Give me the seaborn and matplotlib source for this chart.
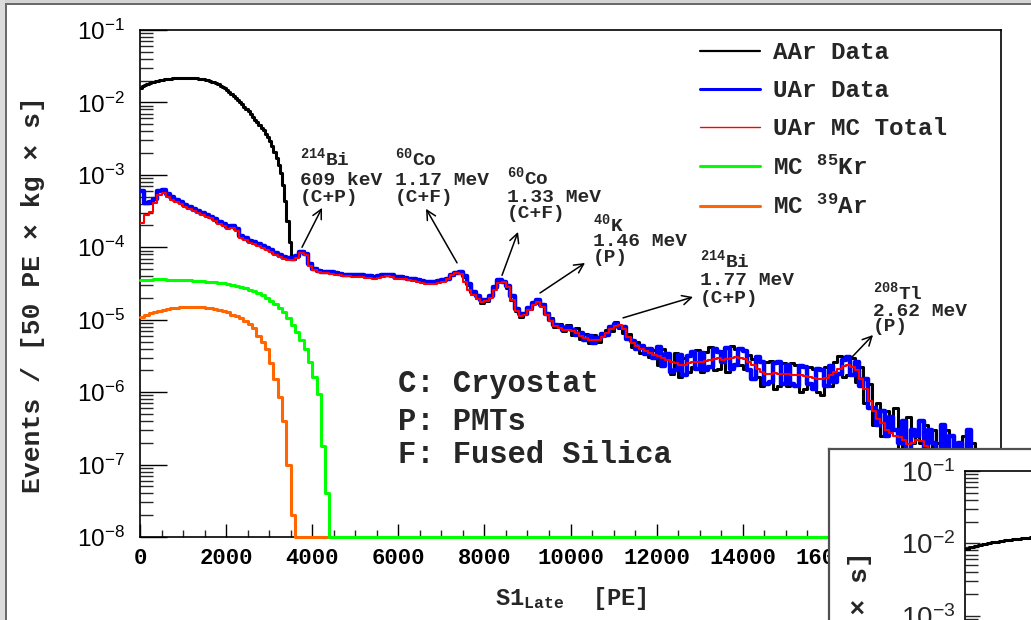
import numpy as np
import pandas as pd
import matplotlib
matplotlib.use("Agg")
import matplotlib.pyplot as plt
import seaborn as sns
from matplotlib.lines import Line2D
from matplotlib.patches import Rectangle
from matplotlib.ticker import LogLocator, LogFormatterMathtext, MultipleLocator, NullFormatter

# ---------------------------------------------------------------- data
BIN_PE = 100      # width of the digitised bins [PE]
FINE_BIN_PE = 50  # finer bins used for the steep AAr 39Ar spectrum below 3600 PE
SCALE = 1e-6      # rates below are given in units of 1e-6 events / (50 PE x kg x s)

# AAr data, 0-3600 PE in 50 PE bins
aar_data_low = [
    15800, 16600, 17300, 17900, 18400, 18900, 19300, 19700, 20000, 20300,
    20600, 20800, 21000, 21200, 21300, 21400, 21500, 21600, 21600, 21700,
    21700, 21700, 21700, 21600, 21600, 21500, 21400, 21200, 21000, 20800,
    20500, 20200, 19800, 19400, 18900, 18400, 17800, 17100, 16400, 15600,
    14800, 14000, 13100, 12300, 11500, 10800, 10100, 9400, 8700, 8100,
    7500, 6900, 6300, 5800, 5300, 4900, 4500, 4100, 3700, 3300,
    2900, 2500, 2100, 1700, 1350, 1050, 720, 440, 230, 120,
    72, 68,
]
# AAr data, 3600-20000 PE in 100 PE bins
aar_data_high = [
    76, 88, 80, 60,
    51, 48, 47, 47, 46, 45, 44, 43, 43, 42,
    42, 42, 41, 41, 40, 41, 41, 42, 41, 40,
    40, 39, 38, 37, 36, 34, 33, 33, 34, 35,
    36, 38, 42, 45, 46, 39, 30, 23, 20, 17.0,
    18, 22, 28, 34, 33, 27, 19, 13, 11, 12.5,
    14, 17, 18, 16.5, 12.5, 10.5, 8.0, 8.8, 7.0, 8.5,
    6.2, 7.6, 5.4, 6.3, 4.8, 6.1, 5.0, 5.9, 7.2, 7.0,
    9.4, 7.6, 6.6, 6.4, 4.2, 4.9, 3.5, 4.1, 3.1, 3.8,
    2.4, 3.9, 3.1, 1.8, 3.5, 1.6, 3.0, 1.9, 2.2, 3.8,
    1.9, 3.6, 4.2, 2.0, 2.1, 3.7, 1.9, 4.3, 3.9, 2.4,
    2.1, 3.3, 2.9, 1.6, 1.2, 2.6, 2.7, 1.1, 1.2, 2.5,
    1.2, 2.5, 2.4, 1.0, 1.1, 2.2, 2.1, 1.0, 0.9, 2.2,
    1.2, 2.6, 3.2, 1.6, 1.7, 3.0, 1.4, 2.2, 0.7, 1.3,
    0.35, 0.7, 0.25, 0.55, 0.3, 0.6, 0.15, 0.35, 0.45, 0.2,
    0.3, 0.2, 0.35, 0.1, 0.3, 0.2, 0.05, 0.3, 0.15, 0.2,
    0.1, 0.25, 0.05, 0.2, 0.05, 0.1, 0, 0, 0, 0,
]

# UAr data, 0-20000 PE in 100 PE bins
uar_data = [
    600, 410, 420, 470, 590, 620, 540, 490, 450, 420,
    385, 360, 335, 315, 298, 282, 265, 243, 226, 210,
    190, 197, 178, 143, 136, 123, 117, 111, 104, 97,
    91, 83, 78, 74, 71, 70, 75, 87, 82, 59,
    50, 47, 46, 46, 45, 44, 43, 42, 42, 41,
    41, 41, 40, 40, 39, 40, 41, 42, 41, 39,
    39, 38, 37, 36, 35, 34, 33, 33, 33, 34,
    35, 37, 41, 44, 46, 40, 31, 24, 21, 18.5,
    19, 21, 28, 35, 33, 29, 21, 14, 12, 12,
    14.5, 17, 18.5, 16, 12, 9.8, 8.4, 8.2, 7.2, 7.9,
    7.3, 6.1, 6.6, 5.2, 5.9, 4.8, 5.6, 6.4, 6.2, 8.0,
    8.8, 8.0, 7.9, 5.4, 5.1, 3.9, 4.4, 3.4, 3.9, 3.0,
    4.2, 2.3, 3.4, 1.9, 2.0, 3.3, 1.7, 3.2, 3.6, 2.1,
    3.5, 2.0, 2.2, 3.9, 3.6, 2.6, 4.1, 2.1, 2.4, 3.9,
    3.7, 2.0, 1.5, 3.1, 2.6, 1.3, 1.4, 2.5, 2.6, 1.3,
    2.4, 1.3, 1.2, 2.3, 2.2, 1.3, 1.1, 2.1, 2.0, 1.2,
    2.3, 1.4, 1.8, 2.8, 3.1, 1.7, 2.6, 1.2, 1.5, 0.6,
    0.6, 0.35, 0.55, 0.25, 0.45, 0.3, 0.2, 0.4, 0.15, 0.3,
    0.25, 0.4, 0.1, 0.3, 0.2, 0.05, 0.35, 0.15, 0.25, 0.1,
    0.2, 0.05, 0.3, 0.1, 0.15, 0.05, 0, 0.1, 0, 0,
]

# UAr MC total, 0-20000 PE in 100 PE bins
uar_mc_total = [
    216, 279, 307, 408, 527, 562, 495, 455, 422, 395,
    360, 340, 315, 297, 280, 265, 250, 228, 212, 197,
    178, 185, 168, 134, 128, 115, 110, 105, 98, 92,
    86, 78, 74, 70, 67, 67, 71, 83, 78, 56,
    48, 45, 44, 44, 43, 42, 41, 40, 40, 39,
    39, 39, 38, 38, 37, 38, 39, 40, 39, 37,
    37, 36, 35, 34, 33, 32, 31, 31, 31, 32,
    33, 36, 41, 44, 43, 33, 26, 22, 19.5, 17.6,
    18, 20, 26, 32, 33, 28, 19, 13, 11.2, 11.8,
    13.6, 16, 17.6, 15, 11.5, 9.5, 8.2, 7.6, 7.3, 7.2,
    7.0, 6.5, 6.0, 5.6, 5.3, 5.2, 5.3, 5.8, 6.6, 7.5,
    8.2, 8.5, 7.5, 5.8, 4.8, 4.3, 4.0, 3.7, 3.5, 3.3,
    3.2, 3.0, 2.8, 2.6, 2.5, 2.35, 2.4, 2.5, 2.6, 2.6,
    2.6, 2.7, 2.8, 2.9, 2.95, 2.8, 2.9, 3.0, 3.1, 3.0,
    2.9, 2.6, 2.35, 2.1, 1.9, 1.8, 1.8, 1.85, 1.8, 1.8,
    1.8, 1.75, 1.7, 1.75, 1.65, 1.6, 1.55, 1.5, 1.5, 1.55,
    1.7, 1.9, 2.1, 2.3, 2.35, 2.2, 2.0, 1.5, 1.1, 0.75,
    0.55, 0.42, 0.37, 0.3, 0.27, 0.25, 0.24, 0.22, 0.19, 0.2,
    0.22, 0.21, 0.18, 0.15, 0.12, 0.10, 0.08, 0.06, 0.05, 0.04,
    0.03, 0.03, 0.02, 0.02, 0.02, 0.01, 0.01, 0.01, 0.01, 0.01,
]

# MC 85Kr, 0-4400 PE in 100 PE bins (empty above)
mc_kr85 = [
    35.3, 35.6, 35.8, 36.0, 36.0, 36.0, 35.9, 35.8, 35.6, 35.4,
    35.2, 35.0, 34.7, 34.4, 34.0, 33.6, 33.2, 32.8, 32.3, 31.8,
    31.2, 30.4, 29.5, 28.5, 27.3, 26.0, 24.8, 23.6, 22.0, 20.0,
    18.3, 16.5, 14.6, 12.6, 10.4, 8.5, 6.8, 5.2, 3.9, 2.6,
    1.6, 0.95, 0.18, 0.04,
]

# MC 39Ar, 0-3600 PE in 100 PE bins (empty above)
mc_ar39 = [
    11.0, 11.6, 12.2, 12.7, 13.2, 13.6, 14.0, 14.3, 14.6, 14.8,
    14.9, 15.0, 15.0, 14.9, 14.8, 14.6, 14.4, 14.1, 13.7, 13.2,
    12.6, 11.8, 11.2, 10.4, 9.5, 8.6, 7.6, 6.0, 5.0, 4.0,
    2.5, 1.5, 0.85, 0.4, 0.1, 0.02,
]

# second (overlapping) canvas in the lower right corner: AAr spectrum start
inset_aar = [8400, 8800, 9100, 9400, 9700, 10000, 10300, 10500, 10800, 11000,
             11200, 11400, 11600, 11800, 12000, 12200, 12300, 12400, 12500, 12600]

legend_labels = ["AAr Data", "UAr Data", "UAr MC Total", "MC $^{85}$Kr", "MC $^{39}$Ar"]
series_colors = ["#000000", "#0000ff", "#ff0000", "#00ff00", "#ff6600"]

# peak annotations: text lines, left x [PE], baselines [rate], arrow tail, arrow head
peak_labels = [
    (["$^{214}$Bi", "609 keV", "(C+P)"], 3717, [1.37e-3, 7.24e-4, 4.22e-4], (3763, 1.0e-4), (4228, 3.5e-4)),
    (["$^{60}$Co", "1.17 MeV", "(C+F)"], 5923, [1.37e-3, 7.24e-4, 4.22e-4], (7364, 6.1e-5), (6644, 3.4e-4)),
    (["$^{60}$Co", "1.33 MeV", "(C+F)"], 8525, [7.41e-4, 4.18e-4, 2.51e-4], (8409, 4.1e-5), (8781, 1.63e-4)),
    (["$^{40}$K", "1.46 MeV", "(P)"], 10523, [1.68e-4, 1.05e-4, 6.32e-5], (9292, 2.34e-5), (10337, 6.07e-5)),
    (["$^{214}$Bi", "1.77 MeV", "(C+P)"], 13008, [5.22e-5, 3.01e-5, 1.72e-5], (11220, 1.06e-5), (12846, 2.06e-5)),
    (["$^{208}$Tl", "2.62 MeV", "(P)"], 17027, [1.91e-5, 1.12e-5, 7.05e-6], (16539, 3.05e-6), (17027, 6.15e-6)),
]
source_key = ["C: Cryostat", "P: PMTs", "F: Fused Silica"]
source_key_x = 5993
source_key_y = [9.95e-7, 3.0e-7, 1.04e-7]

X_MIN, X_MAX = 0, 20000
Y_MIN, Y_MAX = 1e-8, 1e-1

# ---------------------------------------------------------------- style
sns.set_theme(style="white")
plt.rcParams.update({
    "font.family": ["Liberation Mono", "DejaVu Sans"],
    "font.weight": "bold",
    "mathtext.fontset": "custom",
    "mathtext.default": "regular",
    "axes.linewidth": 1.2,
    "axes.edgecolor": "black",
})

W, H = 1031, 620
fig = plt.figure(figsize=(W / 100, H / 100), dpi=100)
fig.patch.set_facecolor("white")

# window frame of the screenshot (top and left)
fig.add_artist(Rectangle((0, 1 - 3 / H), 1, 3 / H, transform=fig.transFigure,
                         facecolor="#d4d4d4", edgecolor="none", zorder=0))
fig.add_artist(Rectangle((0, 1 - 5 / H), 1, 2 / H, transform=fig.transFigure,
                         facecolor="#6a6a6a", edgecolor="none", zorder=0))
fig.add_artist(Rectangle((0, 0), 5 / W, 1, transform=fig.transFigure,
                         facecolor="#dcdcdc", edgecolor="none", zorder=0))
fig.add_artist(Rectangle((5 / W, 0), 2 / W, 1 - 3 / H, transform=fig.transFigure,
                         facecolor="#6a6a6a", edgecolor="none", zorder=0))

ax = fig.add_axes([140 / W, (H - 537) / H, 861 / W, 507 / H])
ax.set_yscale("log")
ax.set_xlim(X_MIN, X_MAX)
ax.set_ylim(Y_MIN, Y_MAX)


def draw_steps(axis, edges, values, color, lw, zorder, clip=True):
    vals = np.asarray(values, float) * SCALE
    y = np.clip(np.append(vals, vals[-1]), Y_MIN, None)
    df = pd.DataFrame({"S1": edges, "rate": y})
    sns.lineplot(data=df, x="S1", y="rate", ax=axis, color=color, linewidth=lw,
                 drawstyle="steps-post", estimator=None, sort=False,
                 zorder=zorder, legend=False, clip_on=clip)


def padded(values, n):
    out = np.zeros(n)
    out[:len(values)] = values
    return out


NB = len(uar_mc_total)
edges_100 = np.arange(NB + 1) * BIN_PE
split = len(aar_data_low) * FINE_BIN_PE
edges_aar = np.concatenate([np.arange(len(aar_data_low)) * FINE_BIN_PE,
                            split + np.arange(len(aar_data_high) + 1) * BIN_PE])
aar_all = list(aar_data_low) + list(aar_data_high)

draw_steps(ax, edges_aar, aar_all, series_colors[0], 2.2, 3)
draw_steps(ax, edges_100, uar_data, series_colors[1], 3.2, 4)
draw_steps(ax, edges_100, uar_mc_total, series_colors[2], 1.5, 5)
draw_steps(ax, edges_100, padded(mc_ar39, NB), series_colors[4], 2.2, 3, clip=False)
draw_steps(ax, edges_100, padded(mc_kr85, NB), series_colors[3], 2.2, 3.5, clip=False)

# axes, ticks
ax.xaxis.set_major_locator(MultipleLocator(2000))
ax.xaxis.set_minor_locator(MultipleLocator(500))
ax.yaxis.set_major_locator(LogLocator(base=10, numticks=20))
ax.yaxis.set_minor_locator(LogLocator(base=10, subs=np.arange(2, 10), numticks=20))
ax.yaxis.set_major_formatter(LogFormatterMathtext())
ax.yaxis.set_minor_formatter(NullFormatter())
ax.tick_params(axis="x", which="major", direction="in", length=9.4, width=1.0,
               bottom=True, top=False, labelsize=16, pad=8, colors="black")
ax.tick_params(axis="x", which="minor", direction="in", length=5, width=1.0,
               bottom=True, top=False)
ax.tick_params(axis="y", which="major", direction="in", length=19.4, width=1.0,
               left=True, right=False, labelsize=17.5, pad=11, colors="black")
ax.tick_params(axis="y", which="minor", direction="in", length=9.4, width=1.0,
               left=True, right=False)
for lab in ax.get_yticklabels():
    lab.set_fontfamily("Liberation Sans")
    lab.set_fontweight("normal")
for sp in ax.spines.values():
    sp.set_color("black")
    sp.set_linewidth(1.2)

ax.set_xlabel("S1$_{Late}$  [PE]", fontsize=17, fontweight="bold")
ax.xaxis.set_label_coords(0.5, -0.094)
ax.set_ylabel("Events / [50 PE \u00d7 kg \u00d7 s]", fontsize=19, fontweight="bold")
ax.yaxis.set_label_coords(-0.11, 0.478)

# legend
handles = [Line2D([], [], color=series_colors[0], lw=1.6),
           Line2D([], [], color=series_colors[1], lw=2.2),
           Line2D([], [], color=series_colors[2], lw=1.0),
           Line2D([], [], color=series_colors[3], lw=2.2),
           Line2D([], [], color=series_colors[4], lw=2.2)]
ax.legend(handles, legend_labels, loc="upper left", bbox_to_anchor=(0.650, 0.978),
          frameon=False, borderpad=0, borderaxespad=0, handlelength=2.47,
          handletextpad=0.55, labelspacing=0.62,
          prop={"family": "Liberation Mono", "weight": "bold", "size": 17.5})

# peak annotations
for lines, x0, ys, tail, head in peak_labels:
    for s, yv in zip(lines, ys):
        ax.text(x0, yv, s, fontsize=14, fontweight="bold", va="baseline", ha="left", zorder=6)
    ax.annotate("", xy=head, xytext=tail,
                arrowprops=dict(arrowstyle="->,head_length=0.55,head_width=0.28",
                                color="black", lw=1.1, shrinkA=0, shrinkB=0), zorder=6)

for s, yv in zip(source_key, source_key_y):
    ax.text(source_key_x, yv, s, fontsize=22, fontweight="bold", va="baseline", ha="left", zorder=6)

# ---------------------------------------------------------------- overlapping second canvas
ax_win = fig.add_axes([829 / W, 0, (W - 829) / W + 0.01, (H - 449) / H], zorder=10)
ax_win.set_facecolor("white")
ax_win.set_xticks([])
ax_win.set_yticks([])
ax_win.grid(False)
for name, sp in ax_win.spines.items():
    sp.set_visible(name in ("left", "top"))
    sp.set_color("#505050")
    sp.set_linewidth(1.6)

ax_in = fig.add_axes([965 / W, (H - 978) / H, 500 / W, 507 / H], zorder=11)
ax_in.set_facecolor("none")
ax_in.set_yscale("log")
ax_in.set_xlim(0, 500 * 23.23)
ax_in.set_ylim(Y_MIN, Y_MAX)
draw_steps(ax_in, np.arange(len(inset_aar) + 1) * BIN_PE, inset_aar, "black", 2.2, 3)
ax_in.yaxis.set_major_locator(LogLocator(base=10, numticks=20))
ax_in.yaxis.set_minor_locator(LogLocator(base=10, subs=np.arange(2, 10), numticks=20))
ax_in.yaxis.set_major_formatter(LogFormatterMathtext())
ax_in.yaxis.set_minor_formatter(NullFormatter())
ax_in.set_xticks([])
ax_in.tick_params(axis="y", which="major", direction="in", length=11, width=1.0,
                  left=True, right=False, labelsize=20, pad=7)
ax_in.tick_params(axis="y", which="minor", direction="in", length=9, width=1.0,
                  left=True, right=False)
for lab in ax_in.get_yticklabels():
    lab.set_fontfamily("Liberation Sans")
    lab.set_fontweight("normal")
for name, sp in ax_in.spines.items():
    sp.set_visible(name in ("left", "top"))
    sp.set_color("black")
    sp.set_linewidth(1.2)
ax_in.set_xlabel("")
ax_in.set_ylabel("Events / [50 PE \u00d7 kg \u00d7 s]", fontsize=19, fontweight="bold")
ax_in.yaxis.set_label_coords(-0.187, 0.45)

fig.savefig("out.png", dpi=100)
